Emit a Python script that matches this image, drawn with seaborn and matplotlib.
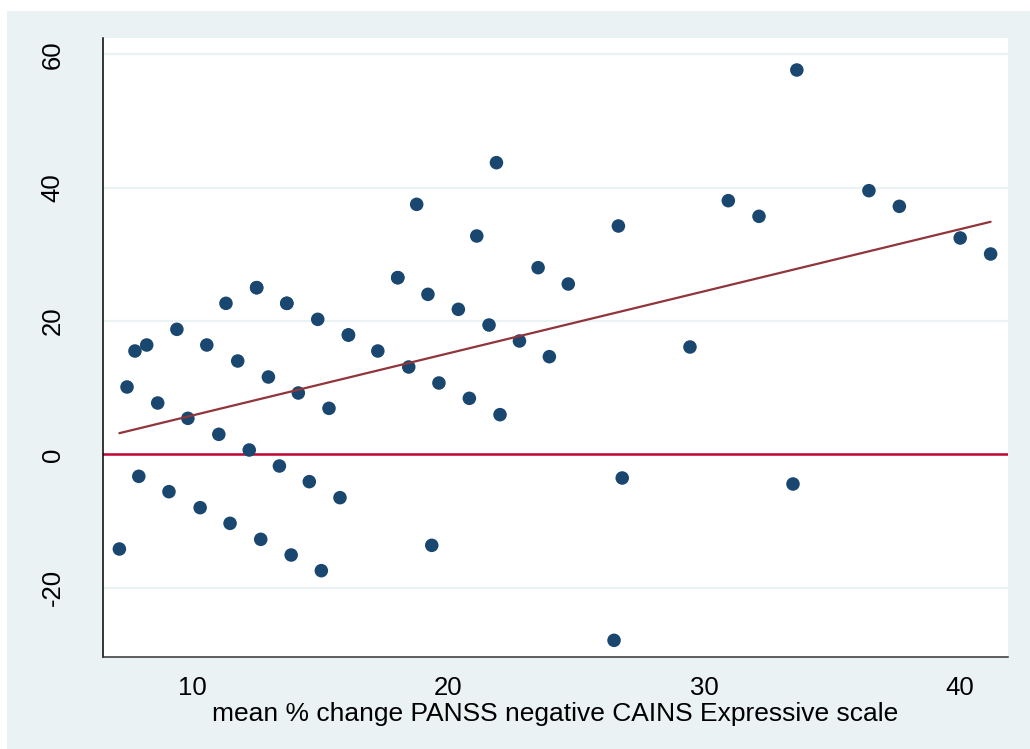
import numpy as np
import pandas as pd
import matplotlib
matplotlib.use("Agg")
import matplotlib.pyplot as plt
from matplotlib.patches import Rectangle
import seaborn as sns

# mean % change PANSS negative (x) vs CAINS Expressive scale change (y);
# a few observations repeat and sit on top of each other
pct_change_panss = [
    7.13, 7.43, 7.74, 7.89, 8.20, 8.63, 9.07, 9.38, 9.81, 10.29,
    10.55, 11.02, 11.30, 11.46, 11.76, 12.21, 12.50, 12.50, 12.66, 12.96,
    13.39, 13.68, 13.68, 13.85, 14.13, 14.56, 14.89, 15.03, 15.33, 15.76,
    16.09, 16.09, 17.24, 18.02, 18.02, 18.45, 18.76, 19.20, 19.35, 19.63,
    20.39, 20.82, 21.11, 21.59, 21.88, 22.02, 22.78, 23.51, 23.95, 24.69,
    26.48, 26.65, 26.80, 29.45, 30.95, 32.15, 33.48, 33.63, 36.45, 37.64,
    40.02, 41.21,
]
cains_expressive = [
    -14.2, 10.1, 15.5, -3.3, 16.4, 7.7, -5.6, 18.75, 5.4, -8.0,
    16.4, 3.0, 22.65, -10.35, 14.0, 0.65, 25.0, 25.0, -12.75, 11.6,
    -1.75, 22.65, 22.65, -15.1, 9.2, -4.1, 20.25, -17.45, 6.9, -6.5,
    17.9, 17.9, 15.5, 26.5, 26.5, 13.1, 37.5, 24.0, -13.65, 10.7,
    21.75, 8.4, 32.75, 19.4, 43.75, 5.95, 17.0, 28.0, 14.65, 25.55,
    -27.9, 34.25, -3.55, 16.1, 38.05, 35.7, -4.45, 57.65, 39.55, 37.2,
    32.45, 30.05,
]
y_ticks = [-20, 0, 20, 40, 60]
x_ticks = [10, 20, 30, 40]
x_label = "mean % change PANSS negative CAINS Expressive scale"

df = pd.DataFrame({"x": pct_change_panss, "y": cains_expressive})

sns.set_style("white")
plt.rcParams["font.family"] = ["Liberation Sans", "DejaVu Sans"]

region_bg = "#EAF2F3"
marker_col = "#1A476F"
fit_col = "#90353B"
ref_col = "#C10534"

fig = plt.figure(figsize=(10.30, 7.49), dpi=100, facecolor="white")
fig.add_artist(Rectangle((7 / 1030, 0), 1 - 7 / 1030, 1 - 11 / 749,
                         transform=fig.transFigure, facecolor=region_bg,
                         edgecolor="none", zorder=-5))
ax = fig.add_axes([103 / 1030, 1 - 657 / 749, (1008 - 103) / 1030, (657 - 38) / 749])
ax.set_zorder(1)
ax.set_facecolor("white")

for yv in y_ticks:
    ax.axhline(yv, color=region_bg, lw=1.6, zorder=0.5)
ax.axhline(0, color=ref_col, lw=1.8, zorder=1)

sns.scatterplot(data=df, x="x", y="y", ax=ax, color=marker_col, s=95,
                edgecolor="none", linewidth=0, zorder=3)
sns.regplot(data=df, x="x", y="y", ax=ax, scatter=False, ci=None,
            line_kws={"color": fit_col, "lw": 1.6, "zorder": 4})

ax.set_xlim(6.49, 41.89)
ax.set_ylim(-30.4, 62.45)
ax.set_xticks(x_ticks)
ax.set_yticks(y_ticks)
ax.set_yticklabels([str(v) for v in y_ticks], rotation=90, va="center")
ax.tick_params(axis="both", which="major", direction="out", length=6.5,
               width=1.0, color="#333333", labelsize=18.5, labelcolor="black")
ax.tick_params(axis="y", pad=21)
ax.tick_params(axis="x", pad=7.5)
ax.set_xlabel(x_label, fontsize=19, labelpad=1, color="black")
ax.set_ylabel("")

for side in ("top", "right"):
    ax.spines[side].set_visible(False)
ax.spines["left"].set_color("black")
ax.spines["bottom"].set_color("#333333")
ax.spines["left"].set_linewidth(1.1)
ax.spines["bottom"].set_linewidth(1.1)

fig.savefig("out.png", dpi=100, facecolor=fig.get_facecolor())
